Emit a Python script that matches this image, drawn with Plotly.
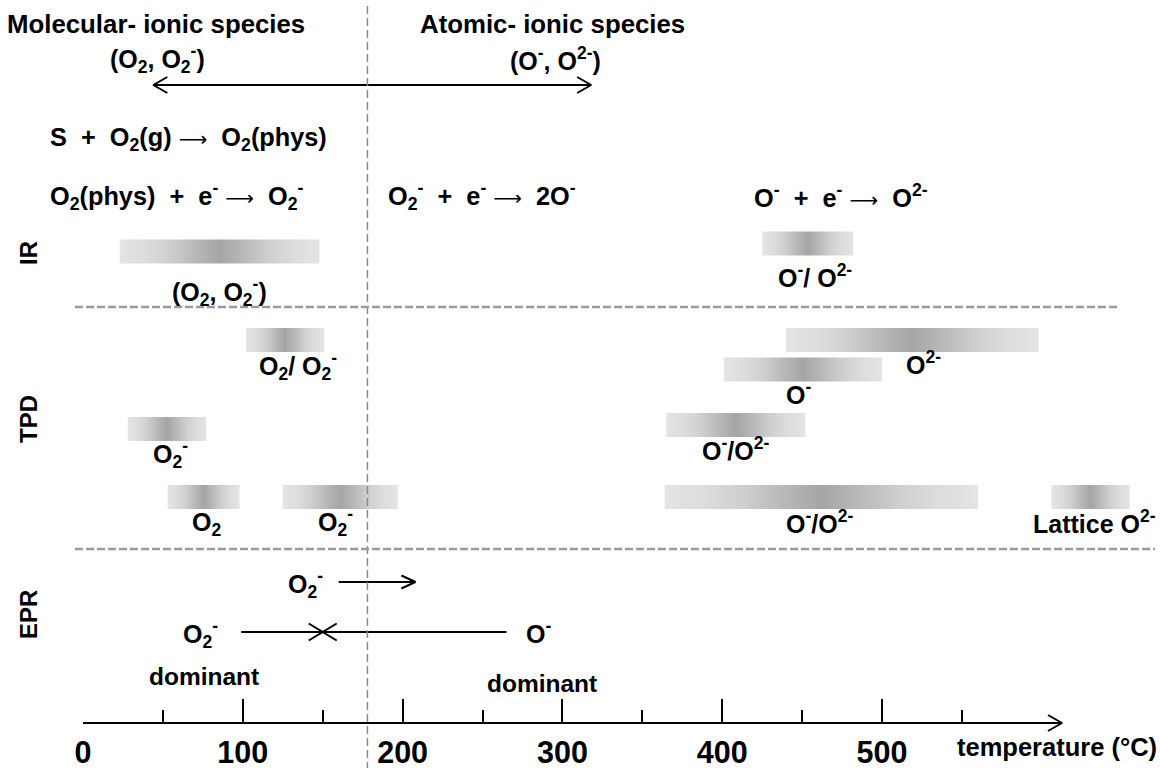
import plotly.graph_objects as go

# ---------------- data (temperatures in °C) ----------------
TICK_MAJOR = [0, 100, 200, 300, 400, 500]
TICK_MINOR = [50, 150, 250, 350, 450, 550]
BOUNDARY_T = 178                      # molecular / atomic boundary

REGIME_ARROW = (44, 318)              # top double arrow span

IR_LABELS = ["(O<sub>2</sub>, O<sub>2</sub><sup>-</sup>)",
             "O<sup>-</sup>/ O<sup>2-</sup>"]
IR_START = [23, 425]
IR_END = [148, 482]

TPD_LABELS = ["O<sub>2</sub>/ O<sub>2</sub><sup>-</sup>",
              "O<sub>2</sub><sup>-</sup>",
              "O<sub>2</sub>",
              "O<sub>2</sub><sup>-</sup>",
              "O<sup>2-</sup>",
              "O<sup>-</sup>",
              "O<sup>-</sup>/O<sup>2-</sup>",
              "O<sup>-</sup>/O<sup>2-</sup>",
              "Lattice O<sup>2-</sup>"]
TPD_START = [102, 28, 53, 125, 440, 401, 365, 364, 606]
TPD_END = [151, 77, 98, 197, 598, 500, 452, 560, 655]

EPR_SINGLE = (160, 208)               # O2- arrow
EPR_LEFT_START = 99                   # O2- dominant arrow start
EPR_RIGHT_START = 265                 # O- dominant arrow start
EPR_MEET = 150                        # where both arrows meet

# ---------------- layout / style ----------------
W, H = 1160, 768
X0_PX = 83            # pixel of 0 °C
PX_PER_DEG = 1.598
AXIS_Y = 723
AXIS_END_PX = 1062
FONT = "Liberation Sans, Arial, sans-serif"
BAR_HALF = 12
BAND_SCALE = [[0, "#e4e4e4"], [0.12, "#dddddd"], [0.25, "#cfcfcf"], [0.37, "#bababa"],
              [0.5, "#a5a5a5"], [0.63, "#bababa"], [0.75, "#cfcfcf"], [0.88, "#dddddd"],
              [1, "#e4e4e4"]]
ARROW = ('<span style="font-family:DejaVu Sans;font-weight:normal;font-size:20px">'
         '\u27f6</span>')

IR_LANE = [251.5, 243.5]
IR_LABEL_Y = [292, 276]
IR_LABEL_DX = [0, 7]
TPD_LANE = [340, 429, 497, 497, 340, 369.5, 425, 497, 497]
TPD_LABEL_Y = [366, 454, 524, 522, 363, 393, 449, 522, 522]
TPD_LABEL_DX = [13, 4, 3, -5, 11, -4, 0, -2, 4]


def t_of(px):
    return (px - X0_PX) / PX_PER_DEG


fig = go.Figure()


def add_band(t0, t1, yc):
    fig.add_trace(go.Scatter(
        x=[t0, t1, t1, t0, t0],
        y=[yc - BAR_HALF, yc - BAR_HALF, yc + BAR_HALF, yc + BAR_HALF, yc - BAR_HALF],
        mode="lines", line=dict(width=0, color="rgba(0,0,0,0)"), fill="toself",
        fillgradient=dict(type="horizontal", colorscale=BAND_SCALE),
        hoverinfo="skip", showlegend=False))


def chevron(tip, y, direction, back_px=14, half_px=8):
    dx = direction * back_px / PX_PER_DEG
    return [tip - dx, tip, tip - dx], [y - half_px, y, y + half_px]


def add_arrow(t_from, t_to, y, heads, half_px=8):
    xs, ys = [t_from, t_to], [y, y]
    for tip, d in heads:
        cx, cy = chevron(tip, y, d, half_px=half_px)
        xs += [None] + cx
        ys += [None] + cy
    fig.add_trace(go.Scatter(x=xs, y=ys, mode="lines",
                             line=dict(color="black", width=2),
                             hoverinfo="skip", showlegend=False))


def note(text, t, y, size=25, xanchor="center", angle=0):
    fig.add_annotation(x=t, y=y, xref="x", yref="y", text="<b>" + text + "</b>",
                       showarrow=False, xanchor=xanchor, yanchor="middle",
                       textangle=angle,
                       font=dict(family=FONT, size=size, color="black"))


# bands
for s, e, yc, lab, ly, dx in zip(IR_START, IR_END, IR_LANE, IR_LABELS, IR_LABEL_Y, IR_LABEL_DX):
    add_band(s, e, yc)
    note(lab, (s + e) / 2 + dx / PX_PER_DEG, ly)
for s, e, yc, lab, ly, dx in zip(TPD_START, TPD_END, TPD_LANE, TPD_LABELS, TPD_LABEL_Y, TPD_LABEL_DX):
    add_band(s, e, yc)
    note(lab, (s + e) / 2 + dx / PX_PER_DEG, ly)

# arrows
add_arrow(REGIME_ARROW[0], REGIME_ARROW[1], 85, [(REGIME_ARROW[0], -1), (REGIME_ARROW[1], 1)])
add_arrow(EPR_SINGLE[0], EPR_SINGLE[1], 582, [(EPR_SINGLE[1], 1)], half_px=6.5)
add_arrow(EPR_LEFT_START, EPR_RIGHT_START, 632, [(EPR_MEET, 1), (EPR_MEET, -1)], half_px=8.5)
# axis arrow head
ax_end = t_of(AXIS_END_PX)
cx, cy = chevron(ax_end, AXIS_Y, 1)
fig.add_trace(go.Scatter(x=cx, y=cy, mode="lines", line=dict(color="black", width=2),
                         hoverinfo="skip", showlegend=False))
# invisible trace carrying the temperature axis
fig.add_trace(go.Scatter(x=[0], y=[AXIS_Y], xaxis="x2", yaxis="y", mode="markers",
                         marker=dict(opacity=0), hoverinfo="skip", showlegend=False))

# texts
note("Molecular- ionic species", t_of(156), 24, size=25.8)
note("(O<sub>2</sub>, O<sub>2</sub><sup>-</sup>)", t_of(157), 59)
note("Atomic- ionic species", t_of(552), 24, size=25.8)
note("(O<sup>-</sup>, O<sup>2-</sup>)", t_of(555), 59)

EQ = 25.3
note("S \u00a0+\u00a0 O<sub>2</sub>(g) " + ARROW + "\u00a0 O<sub>2</sub>(phys)", t_of(48), 139,
     size=EQ, xanchor="left")
note("O<sub>2</sub>(phys) \u00a0+\u00a0 e<sup>-</sup> " + ARROW + "\u00a0 O<sub>2</sub><sup>-</sup>",
     t_of(48), 196, size=EQ, xanchor="left")
note("O<sub>2</sub><sup>-</sup> \u00a0+\u00a0 e<sup>-</sup> " + ARROW + "\u00a0 2O<sup>-</sup>",
     t_of(386), 196, size=EQ, xanchor="left")
note("O<sup>-</sup> \u00a0+\u00a0 e<sup>-</sup> " + ARROW + "\u00a0 O<sup>2-</sup>",
     t_of(752), 196, size=EQ, xanchor="left")

note("IR", t_of(28), 253, size=24, angle=-90)
note("TPD", t_of(28), 419, size=24, angle=-90)
note("EPR", t_of(28), 615, size=24, angle=-90)

note("O<sub>2</sub><sup>-</sup>", t_of(305), 584)
note("O<sub>2</sub><sup>-</sup>", t_of(200), 634)
note("O<sup>-</sup>", t_of(538), 632)
note("dominant", t_of(204), 676, size=24.5)
note("dominant", t_of(542), 683, size=24.5)

note("temperature (\u00b0C)", t_of(1057), 747, size=25.5)

# separators
fig.add_shape(type="line", xref="x", yref="y", x0=BOUNDARY_T, x1=BOUNDARY_T, y0=6, y1=768,
              line=dict(color="#8a8a8a", width=1.5, dash="8px,4px"))
fig.add_shape(type="line", xref="paper", yref="y", x0=75 / W, x1=1118 / W, y0=307, y1=307,
              line=dict(color="#9a9a9a", width=2.5, dash="8px,3px"))
fig.add_shape(type="line", xref="paper", yref="y", x0=75 / W, x1=1155 / W, y0=549, y1=549,
              line=dict(color="#9a9a9a", width=2.5, dash="8px,3px"))

fig.update_layout(
    width=W, height=H, margin=dict(l=0, r=0, t=0, b=0, pad=0, autoexpand=False),
    paper_bgcolor="white", plot_bgcolor="rgba(0,0,0,0)",
    showlegend=False,
    xaxis=dict(visible=False, range=[t_of(0), t_of(W)], domain=[0, 1], automargin=False),
    yaxis=dict(visible=False, range=[H, 0], domain=[0, 1], automargin=False),
    xaxis2=dict(domain=[X0_PX / W, AXIS_END_PX / W], range=[0, t_of(AXIS_END_PX)],
                anchor="free", position=(H - AXIS_Y) / H, automargin=False,
                showline=True, linecolor="black", linewidth=2,
                showgrid=False, zeroline=False,
                ticks="inside", ticklen=23, tickwidth=2, tickcolor="black",
                ticklabelstandoff=2,
                tickvals=TICK_MAJOR, ticktext=[str(v) for v in TICK_MAJOR],
                tickfont=dict(family=FONT, size=30.5, color="black", weight="bold"),
                minor=dict(tickvals=TICK_MINOR, ticks="inside", ticklen=12,
                           tickwidth=2, tickcolor="black", showgrid=False)),
)

fig.write_html("out.html", config={"displayModeBar": False},
               post_script="document.body.style.margin='0';document.body.style.overflow='hidden';")
